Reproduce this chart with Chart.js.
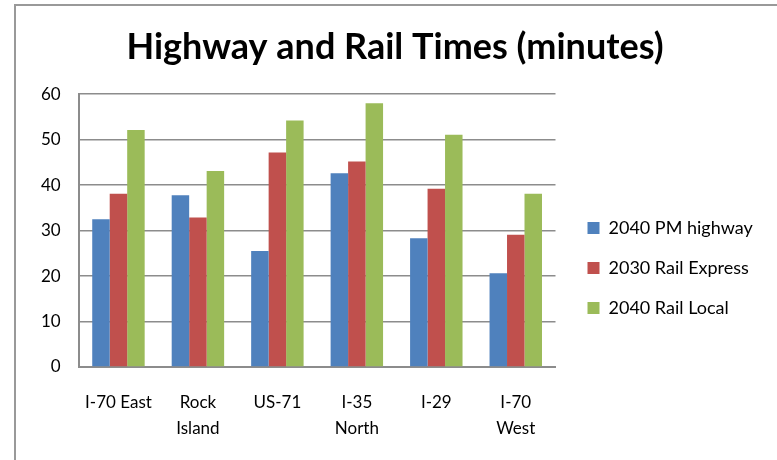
<!DOCTYPE html>
<html>
<head>
<meta charset="utf-8">
<title>Highway and Rail Times</title>
<script src="https://cdn.jsdelivr.net/npm/chart.js@4/dist/chart.umd.min.js"></script>
<style>
    html, body { margin: 0; padding: 0; background: #fff; }
    #wrap { position: relative; width: 777px; height: 460px; overflow: hidden; }
    #frame {
        position: absolute; left: 14px; top: 4px; right: -10px; bottom: -10px;
        border-left: 2px solid #999; border-top: 2px solid #999;
    }
    #timesChart { position: absolute; left: 0; top: 0; }
</style>
</head>
<body>
<div id="wrap">
    <div id="frame"></div>
    <canvas id="timesChart" width="777" height="460"></canvas>
</div>
<script>
// corridors along the x axis (two-line labels where the name wraps)
const corridors = ['I-70 East', ['Rock', 'Island'], 'US-71', ['I-35', 'North'], 'I-29', ['I-70', 'West']];

// travel times in minutes
const pmHighway2040 = [32.5, 37.8, 25.5, 42.6, 28.3, 20.6];
const railExpress2030 = [38.1, 32.9, 47.2, 45.2, 39.2, 29.1];
const railLocal2040 = [52.1, 43.1, 54.2, 58.0, 51.1, 38.1];

const seriesNames = ['2040 PM highway', '2030 Rail Express', '2040 Rail Local'];
const seriesColors = ['#4F81BD', '#C0504D', '#9BBB59'];

const yMin = 0;
const yMax = 60;
const yStep = 10;

const FONT = 'Lato, "Open Sans", sans-serif';

// after layout: move the legend away from the plot and down toward its middle
// (right edge widened so the legend clip doesn't cut the labels),
// and centre the title over the whole frame instead of the padded box
const blockNudge = {
    id: 'blockNudge',
    afterLayout(chart) {
        const legend = chart.legend;
        if (legend) {
            legend.left += 10;
            legend.right = chart.width;
            legend.top += 36;
            legend.bottom += 36;
        }
        const title = chart.titleBlock;
        if (title) {
            title.left += 17;
            title.right += 17;
        }
    }
};

const ctx = document.getElementById('timesChart').getContext('2d');
new Chart(ctx, {
    type: 'bar',
    data: {
        labels: corridors,
        datasets: [pmHighway2040, railExpress2030, railLocal2040].map((values, i) => ({
            label: seriesNames[i],
            data: values,
            backgroundColor: seriesColors[i],
            borderWidth: 0,
            categoryPercentage: 0.66,
            barPercentage: 1.0
        }))
    },
    options: {
        responsive: false,
        animation: false,
        devicePixelRatio: 1,
        layout: {
            padding: { left: 23, right: 44, top: 0, bottom: -4 }
        },
        scales: {
            x: {
                grid: { display: false, drawTicks: false },
                border: { display: true, color: '#8c8c8c', width: 2 },
                ticks: {
                    color: '#000',
                    padding: 23,
                    maxRotation: 0,
                    autoSkip: false,
                    font: { family: FONT, size: 17, lineHeight: 1.5 }
                }
            },
            y: {
                min: yMin,
                max: yMax,
                grid: { color: '#8c8c8c', lineWidth: 1.5, drawTicks: false },
                border: { display: true, color: '#8c8c8c', width: 2 },
                ticks: {
                    stepSize: yStep,
                    color: '#000',
                    padding: 18,
                    font: { family: FONT, size: 17 }
                }
            }
        },
        plugins: {
            title: {
                display: true,
                text: 'Highway and Rail Times (minutes)',
                color: '#000',
                padding: { top: 26, bottom: 25 },
                font: { family: FONT, size: 36, weight: 'bold' }
            },
            legend: {
                position: 'right',
                labels: {
                    color: '#000',
                    boxWidth: 12,
                    boxHeight: 12,
                    padding: 22,
                    font: { family: FONT, size: 18 }
                }
            },
            tooltip: { enabled: false }
        }
    },
    plugins: [blockNudge]
});
</script>
</body>
</html>
